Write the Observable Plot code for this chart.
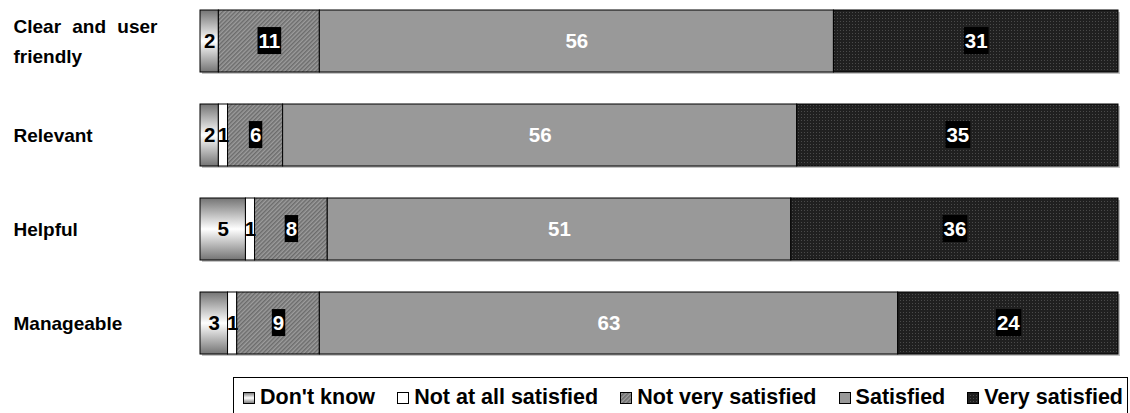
<!DOCTYPE html>
<html>
<head>
<meta charset="utf-8">
<script src="https://cdn.jsdelivr.net/npm/d3@7"></script>
<script src="https://cdn.jsdelivr.net/npm/@observablehq/plot@0.6"></script>
<style>
  body { margin: 0; background: #fff; font-family: "Liberation Sans", Arial, sans-serif; }
  #wrap { position: relative; width: 1130px; height: 413px; overflow: hidden; }
  #legend {
    position: absolute; left: 233px; top: 377px; width: 895px; height: 40px;
    border: 1px solid #000; border-bottom: none; box-sizing: border-box;
    display: flex; align-items: center; justify-content: space-between;
    padding: 0 4px 0 9px; font-weight: bold; font-size: 21.5px; color: #000;
  }
  .item { display: flex; align-items: center; white-space: nowrap; }
  .item svg { margin-right: 5px; flex: none; }
</style>
</head>
<body>
<div id="wrap">
  <div id="chart"></div>
  <div id="legend"></div>
</div>
<script>
// Survey items and their labels (the first one wraps onto two lines)
const categories = ["Clear and user friendly", "Relevant", "Helpful", "Manageable"];
const categoryLabels = ["Clear and user\nfriendly", "Relevant", "Helpful", "Manageable"];

// Response options, in stacking order
const series = ["Don't know", "Not at all satisfied", "Not very satisfied", "Satisfied", "Very satisfied"];

// Percentages per item
const dontKnow      = [2, 2, 5, 3];
const notAtAll      = [0, 1, 1, 1];
const notVery       = [11, 6, 8, 9];
const satisfied     = [56, 56, 51, 63];
const verySatisfied = [31, 35, 36, 24];

// Fills for each response option (gradient and patterns are defined below)
const fills = ["url(#fill-dk)", "#ffffff", "url(#fill-hatch)", "#999999", "url(#fill-dots)"];

const columns = [dontKnow, notAtAll, notVery, satisfied, verySatisfied];
const rows = [];
categories.forEach((c, i) => {
  columns.forEach((col, j) => rows.push({category: c, series: series[j], value: col[i]}));
});

const stack = (o) => Plot.stackX({x: "value", y: "category", z: "series", offset: "normalize", ...o});
const label = (group) => (d) => (d.value > 0 && group.includes(d.series)) ? String(d.value) : "";

const chart = Plot.plot({
  width: 1130,
  height: 365,
  marginLeft: 200,
  marginRight: 12,
  marginTop: 0,
  marginBottom: 0,
  style: {fontFamily: "'Liberation Sans', Arial, sans-serif", background: "white", overflow: "visible"},
  x: {axis: null, domain: [0, 1]},
  y: {axis: null, domain: categories, paddingInner: 0.34, paddingOuter: 0.106},
  color: {type: "ordinal", domain: series, range: fills},
  marks: [
    // soft drop shadow behind each bar
    Plot.barX(categories, {y: (d) => d, x1: 0, x2: 1, fill: "#c4c4c4", dx: 2, dy: 2}),
    // stacked segments
    Plot.barX(rows, stack({fill: "series", stroke: "#000", strokeWidth: 1, filter: (d) => d.value > 0})),
    // value labels
    Plot.text(rows, stack({text: label(["Don't know", "Not at all satisfied"]), fill: "#000", fontSize: 20.5, fontWeight: "bold"})),
    Plot.text(rows, stack({text: label(["Satisfied"]), fill: "#fff", fontSize: 20.5, fontWeight: "bold"})),
    Plot.text(rows, stack({text: label(["Not very satisfied", "Very satisfied"]), fill: "#fff", fontSize: 20.5, fontWeight: "bold", className: "boxed"})),
    // item names on the left
    Plot.text(categories, {
      y: (d) => d, text: (d, i) => categoryLabels[i],
      frameAnchor: "left", textAnchor: "start", dx: -187, dy: -3,
      fontSize: 19, fontWeight: "bold", lineHeight: 1.58, fill: "#000", className: "item-names"
    })
  ]
});

document.getElementById("chart").appendChild(chart);
const svg = d3.select(chart.tagName.toLowerCase() === "svg" ? chart : chart.querySelector("svg"));

svg.insert("defs", ":first-child").html(`
  <linearGradient id="fill-dk" x1="0" y1="0" x2="0" y2="1">
    <stop offset="0" stop-color="#747474"/>
    <stop offset="0.5" stop-color="#ffffff"/>
    <stop offset="1" stop-color="#747474"/>
  </linearGradient>
  <pattern id="fill-hatch" width="3" height="3" patternUnits="userSpaceOnUse" patternTransform="rotate(45)">
    <rect width="3" height="3" fill="#9c9c9c"/>
    <rect width="1.5" height="3" fill="#6c6c6c"/>
  </pattern>
  <pattern id="fill-dots" width="3" height="3" patternUnits="userSpaceOnUse">
    <rect width="3" height="3" fill="#202020"/>
    <rect width="1" height="1" fill="#4a4a4a"/>
  </pattern>
`);

// black boxes behind the white labels on the patterned segments
svg.selectAll("g.boxed text").each(function () {
  if (!this.textContent) return;
  const b = this.getBBox();
  d3.select(this.parentNode).insert("rect", () => this)
    .attr("x", b.x - 1).attr("y", b.y - 2)
    .attr("width", b.width + 2).attr("height", b.height + 4)
    .attr("transform", this.getAttribute("transform"))
    .attr("fill", "#000");
});

// a little extra word spacing on the wrapped item name
svg.selectAll("g.item-names text").style("word-spacing", "6px");

// legend
const legend = d3.select("#legend");
series.forEach((s, i) => {
  const item = legend.append("div").attr("class", "item");
  const sw = item.append("svg").attr("width", 12).attr("height", 12);
  sw.append("rect").attr("x", 0.5).attr("y", 0.5).attr("width", 11).attr("height", 11)
    .attr("fill", fills[i]).attr("stroke", "#000").attr("stroke-width", 1);
  item.append("span").text(s);
});
</script>
</body>
</html>
